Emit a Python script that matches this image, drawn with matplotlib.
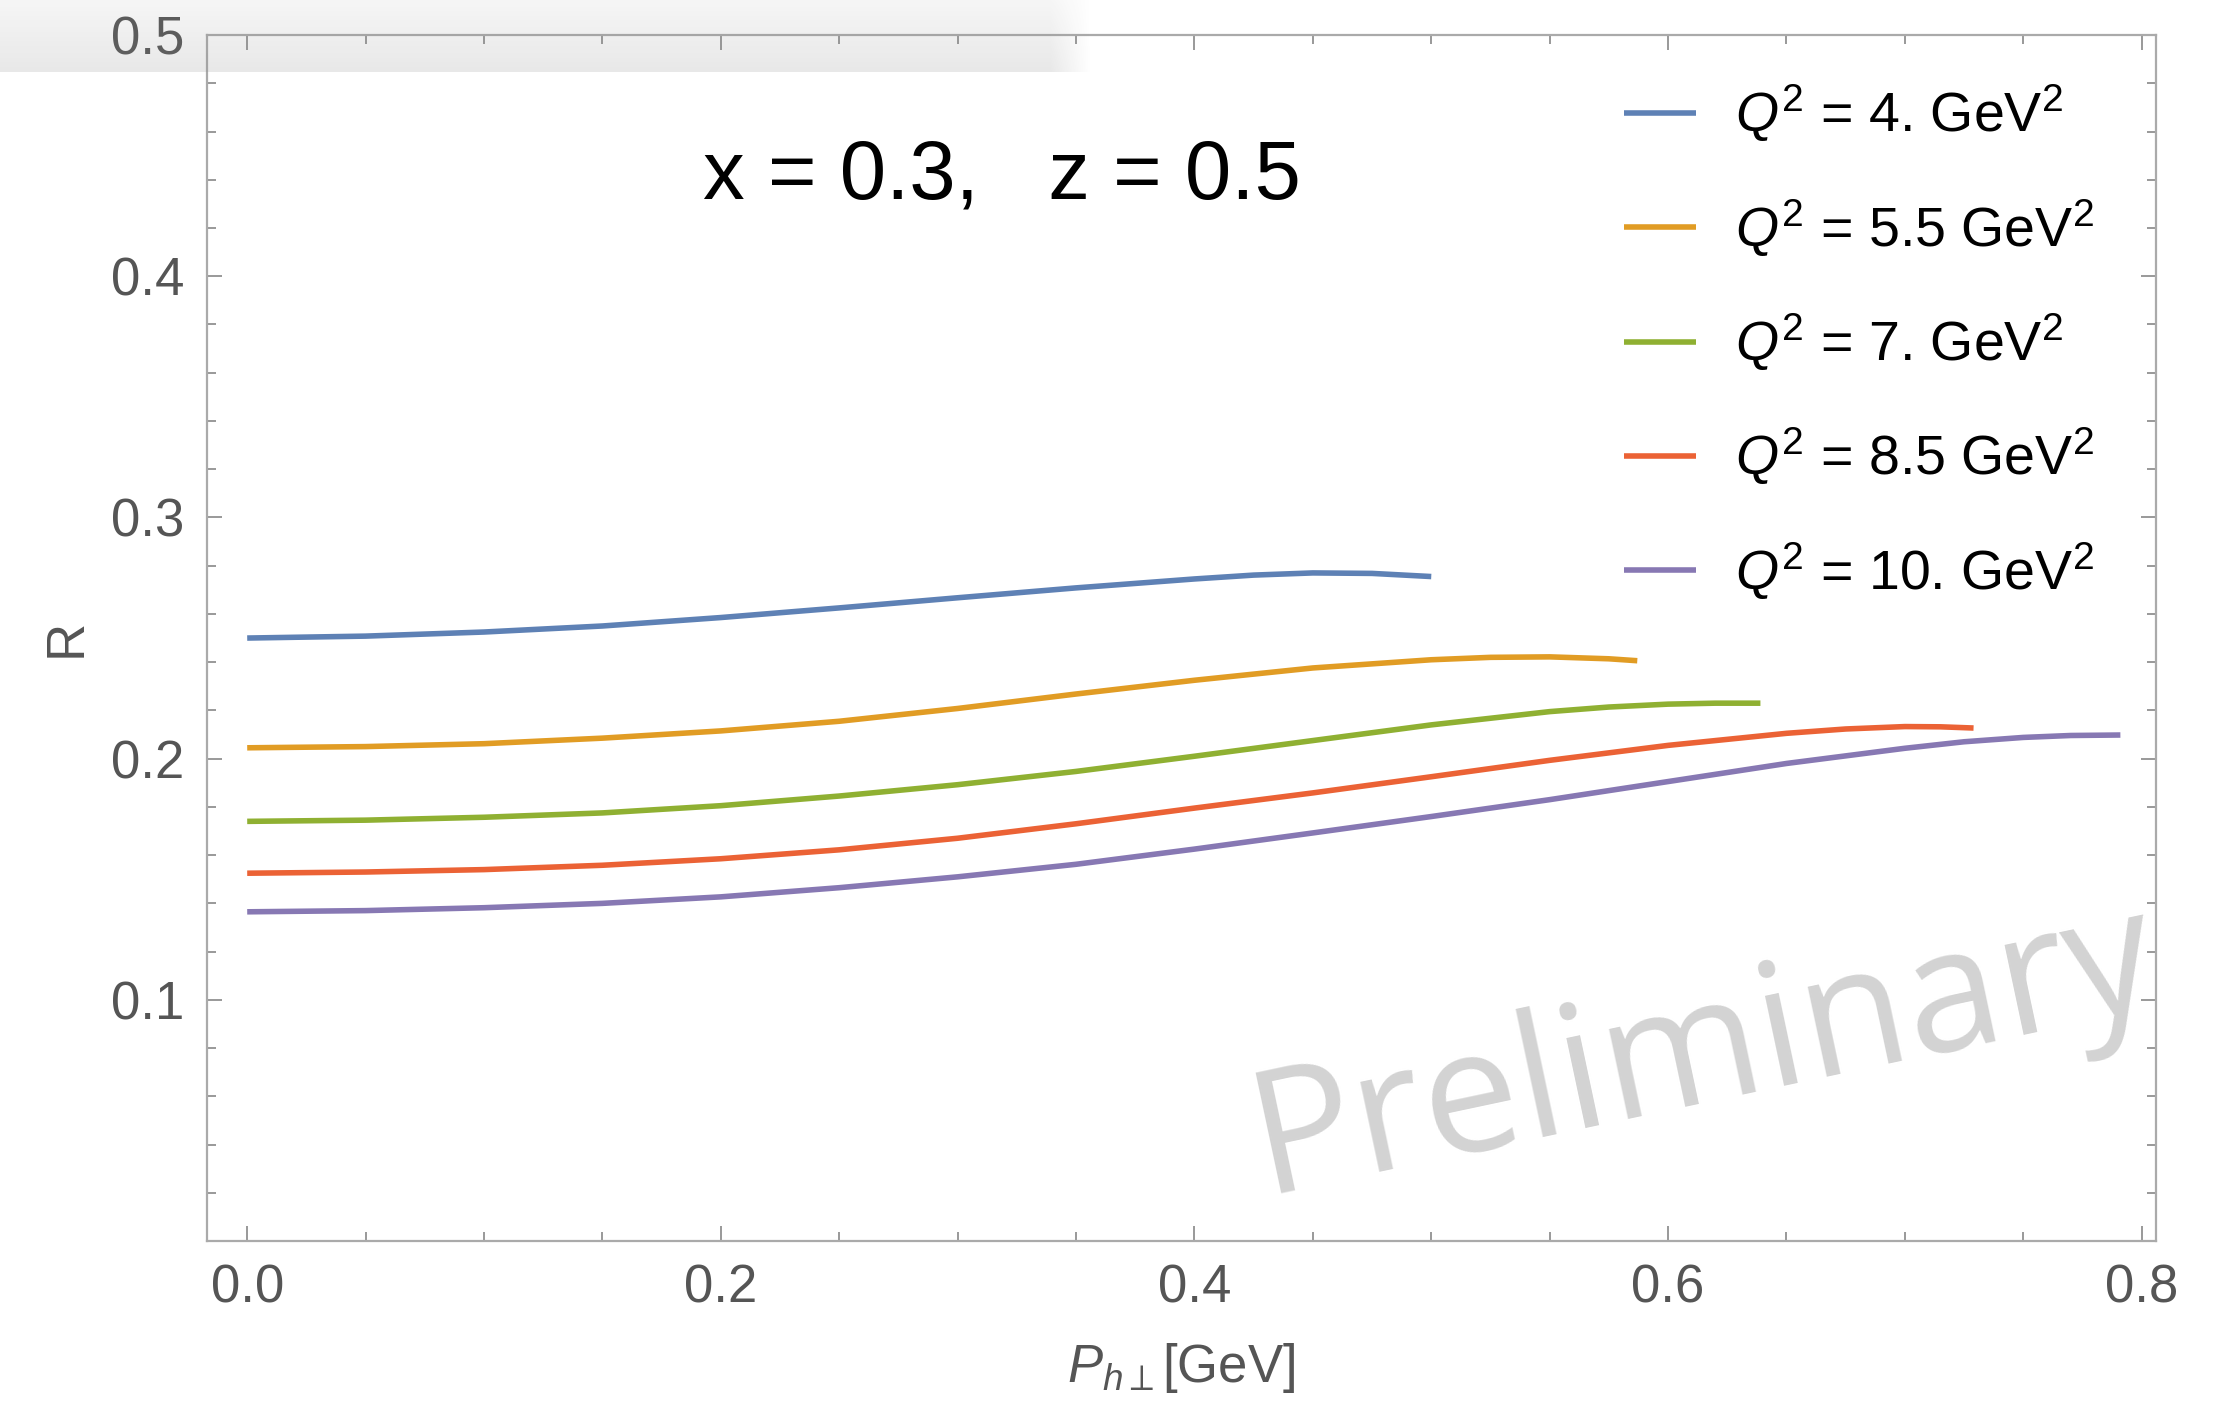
import matplotlib
matplotlib.use('Agg')
import matplotlib.pyplot as plt
from matplotlib.ticker import MultipleLocator
import numpy as np

plt.rcParams['font.family'] = ['Liberation Sans', 'DejaVu Sans']
plt.rcParams['mathtext.fontset'] = 'custom'
plt.rcParams['mathtext.rm'] = 'Liberation Sans'
plt.rcParams['mathtext.it'] = 'Liberation Sans:italic'

# values
x_q4 = [0.0, 0.05, 0.1, 0.15, 0.2, 0.25, 0.3, 0.35, 0.4, 0.425, 0.45, 0.475, 0.5]
r_q4 = [0.2500, 0.2508, 0.2525, 0.2550, 0.2585, 0.2625, 0.2667, 0.2708, 0.2745, 0.2761, 0.2770, 0.2768, 0.2755]

x_q55 = [0.0, 0.05, 0.1, 0.15, 0.2, 0.25, 0.3, 0.35, 0.4, 0.45, 0.5, 0.525, 0.55, 0.575, 0.587]
r_q55 = [0.2045, 0.2050, 0.2062, 0.2085, 0.2115, 0.2155, 0.2208, 0.2268, 0.2325, 0.2376, 0.2410, 0.2420, 0.2422, 0.2414, 0.2406]

x_q7 = [0.0, 0.05, 0.1, 0.15, 0.2, 0.25, 0.3, 0.35, 0.4, 0.45, 0.5, 0.55, 0.575, 0.6, 0.62, 0.639]
r_q7 = [0.1740, 0.1745, 0.1757, 0.1775, 0.1805, 0.1845, 0.1892, 0.1947, 0.2010, 0.2075, 0.2140, 0.2195, 0.2214, 0.2226, 0.2230, 0.2230]

x_q85 = [0.0, 0.05, 0.1, 0.15, 0.2, 0.25, 0.3, 0.35, 0.4, 0.45, 0.5, 0.55, 0.6, 0.65, 0.675, 0.7, 0.715, 0.729]
r_q85 = [0.1525, 0.1530, 0.1540, 0.1558, 0.1585, 0.1622, 0.1670, 0.1730, 0.1795, 0.1858, 0.1925, 0.1993, 0.2055, 0.2105, 0.2123, 0.2133, 0.2132, 0.2127]

x_q10 = [0.0, 0.05, 0.1, 0.15, 0.2, 0.25, 0.3, 0.35, 0.4, 0.45, 0.5, 0.55, 0.6, 0.65, 0.7, 0.725, 0.75, 0.77, 0.791]
r_q10 = [0.1365, 0.1370, 0.1382, 0.1400, 0.1427, 0.1465, 0.1510, 0.1562, 0.1625, 0.1692, 0.1760, 0.1830, 0.1905, 0.1980, 0.2043, 0.2070, 0.2088, 0.2096, 0.2098]

labels = [r'$Q^2$ = 4. GeV$^2$', r'$Q^2$ = 5.5 GeV$^2$', r'$Q^2$ = 7. GeV$^2$',
          r'$Q^2$ = 8.5 GeV$^2$', r'$Q^2$ = 10. GeV$^2$']
colors = ['#5E81B5', '#E19C24', '#8FB032', '#EB6235', '#8778B3']
curves = [(x_q4, r_q4), (x_q55, r_q55), (x_q7, r_q7), (x_q85, r_q85), (x_q10, r_q10)]

fig = plt.figure(figsize=(11.09, 7.01), dpi=200)
ax = fig.add_axes([0.0933, 0.1148, 0.8787, 0.8602])
ax.patch.set_alpha(0)

for (xs, ys), c, lab in zip(curves, colors, labels):
    ax.plot(xs, ys, color=c, lw=2.0, label=lab, solid_capstyle='butt', solid_joinstyle='round')

ax.set_xlim(-0.017, 0.806)
ax.set_ylim(0.0, 0.5)
ax.set_xticks([0.0, 0.2, 0.4, 0.6, 0.8])
ax.set_xticklabels(['0.0', '0.2', '0.4', '0.6', '0.8'])
ax.set_yticks([0.1, 0.2, 0.3, 0.4, 0.5])
ax.xaxis.set_minor_locator(MultipleLocator(0.05))
ax.yaxis.set_minor_locator(MultipleLocator(0.02))
ax.tick_params(which='both', direction='in', top=True, right=True, color='#888888',
               labelcolor='#555555', labelsize=19, width=0.6)
ax.tick_params(which='major', length=5.5, pad=8)
ax.tick_params(which='minor', length=3.2)
for s in ax.spines.values():
    s.set_color('#aaaaaa')
    s.set_linewidth(0.8)

ax.set_xlabel(r'$P_{h\perp}$[GeV]', fontsize=19, color='#555555', labelpad=10)
ax.set_ylabel('R', fontsize=19, color='#555555', labelpad=7)

fig.text(0.317, 0.874, 'x = 0.3,   z = 0.5', fontsize=30, color='black', va='center', ha='left')

leg = ax.legend(loc='upper left', bbox_to_anchor=(0.732, 0.941), bbox_transform=fig.transFigure,
                frameon=False, fontsize=20, handlelength=1.3, handletextpad=0.7,
                labelspacing=0.95, borderpad=0, borderaxespad=0)

fig.text(0.768, 0.249, 'Preliminary', fontsize=62, color='#d3d3d3', rotation=12,
         ha='center', va='center', family='Open Sans', zorder=0)

# grey screenshot band at the top left
band = fig.add_axes([0, 1 - 72 / 1402, 1090 / 2218, 72 / 1402], zorder=5)
h, w = 72, 1090
alpha_v = np.linspace(0.08, 0.2, h)[:, None]
alpha_h = np.clip((w - np.arange(w)) / 40.0, 0, 1)[None, :]
rgba = np.zeros((h, w, 4))
rgba[..., :3] = 0.55
rgba[..., 3] = alpha_v * alpha_h
band.imshow(rgba, aspect='auto', interpolation='bilinear')
band.axis('off')

fig.savefig('out.png', dpi=200)
